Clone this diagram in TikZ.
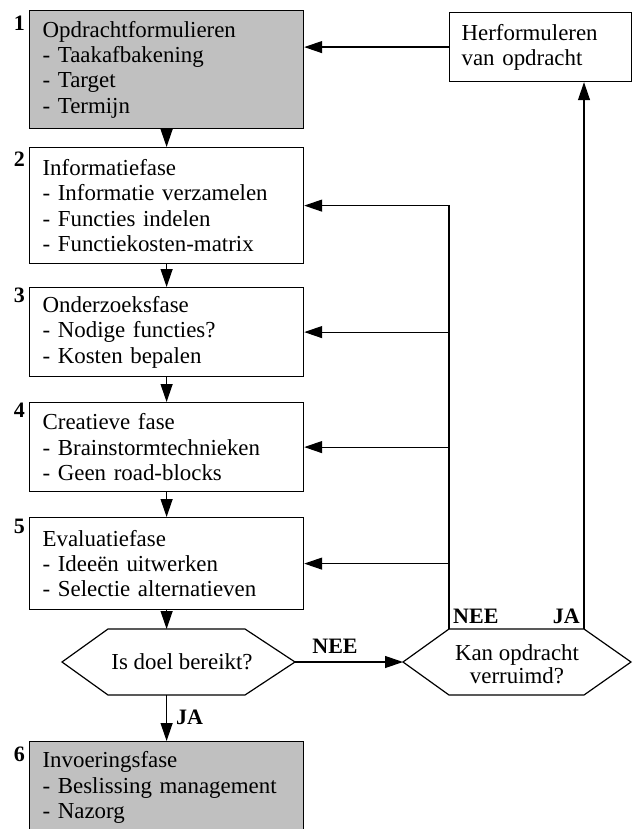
\documentclass[tikz,border=0pt]{standalone}
\usepackage{fontspec}
\setmainfont{Liberation Serif}
\usetikzlibrary{arrows.meta}
\definecolor{phasegray}{RGB}{192,192,192}
\tikzset{
  textbase/.style={draw, line width=1.2pt, rectangle, inner ysep=0pt, align=left,
    font=\fontsize{22.9pt}{25.3pt}\selectfont, anchor=north west},
  phase/.style={textbase, minimum width=274pt, text width=248pt, inner xsep=13pt},
  numlabel/.style={anchor=north east, inner sep=0pt, font=\bfseries\fontsize{22pt}{22pt}\selectfont},
  answer/.style={inner sep=0pt, font=\bfseries\fontsize{22pt}{22pt}\selectfont},
  hextext/.style={inner sep=0pt, align=center, font=\fontsize{22.9pt}{23pt}\selectfont},
  arr/.style={line width=1.2pt, -{Triangle[length=18pt,width=12pt]}},
  hexline/.style={line width=1.2pt, line join=miter}
}
\begin{document}
\begin{tikzpicture}[x=1pt, y=-1pt]
\useasboundingbox (0,0) rectangle (632,829);
\clip (0,0) rectangle (632,829);

% phase boxes
\node[phase, fill=phasegray, minimum height=118pt] (p1) at (29,10)
  {Opdrachtformulieren\\- Taakafbakening\\- Target\\- Termijn};
\node[phase, minimum height=116pt] (p2) at (29,147)
  {Informatiefase\\- Informatie verzamelen\\- Functies indelen\\- Functiekosten-matrix};
\node[phase, minimum height=89pt] (p3) at (29,287)
  {Onderzoeksfase\\- Nodige functies?\\- Kosten bepalen};
\node[phase, minimum height=89pt] (p4) at (29,402)
  {Creatieve fase\\- Brainstormtechnieken\\- Geen road-blocks};
\node[phase, minimum height=92pt] (p5) at (29,517)
  {Evaluatiefase\\- Ideeën uitwerken\\- Selectie alternatieven};
\node[phase, fill=phasegray, minimum height=92pt] (p6) at (29,741)
  {Invoeringsfase\\- Beslissing management\\- Nazorg};

\node[textbase, minimum width=182pt, text width=158pt, inner xsep=12pt, minimum height=69pt] (herf) at (449,12)
  {Herformuleren\\van opdracht};

% phase numbers
\node[numlabel] (n1) at (25,16) {1};
\node[numlabel] (n2) at (25,152) {2};
\node[numlabel] (n3) at (25,288) {3};
\node[numlabel] (n4) at (25,403) {4};
\node[numlabel] (n5) at (25,519) {5};
\node[numlabel] (n6) at (25,747) {6};

% decision hexagons
\coordinate (h1w) at (62,662);
\coordinate (h1nw) at (108,629);
\coordinate (h1ne) at (245,629);
\coordinate (h1e) at (295,662);
\coordinate (h1se) at (245,695);
\coordinate (h1sw) at (108,695);
\draw[hexline] (h1w) -- (h1nw) -- (h1ne) -- (h1e) -- (h1se) -- (h1sw) -- cycle;
\node[hextext] (q1) at (182,662) {Is doel bereikt?};

\coordinate (h2w) at (403,662);
\coordinate (h2nw) at (449,629);
\coordinate (h2ne) at (584,629);
\coordinate (h2e) at (631,662);
\coordinate (h2se) at (584,695);
\coordinate (h2sw) at (449,695);
\draw[hexline] (h2w) -- (h2nw) -- (h2ne) -- (h2e) -- (h2se) -- (h2sw) -- cycle;
\node[hextext] (q2) at (517,664) {Kan opdracht\\verruimd?};

% main flow
\draw[arr] (p1.south) -- (p2.north);
\draw[arr] (p2.south) -- (p3.north);
\draw[arr] (p3.south) -- (p4.north);
\draw[arr] (p4.south) -- (p5.north);
\draw[arr] (p5.south) -- (p5.south |- h1nw);
\draw[arr] (p5.south |- h1sw) -- (p6.north);
\draw[arr] (h1e) -- (h2w);

% feedback loops
\draw[arr] (h2nw) |- (p2.east);
\draw[arr] (h2nw |- p3.east) -- (p3.east);
\draw[arr] (h2nw |- p4.east) -- (p4.east);
\draw[arr] (h2nw |- p5.east) -- (p5.east);
\draw[arr] (h2ne) -- (h2ne |- herf.south);
\draw[arr] (herf.west) -- (herf.west -| p1.east);

% answers
\node[answer, anchor=base west] (a1) at (453,623) {NEE};
\node[answer, anchor=base east] (a2) at (580,623) {JA};
\node[answer, anchor=base] (a3) at (335,653) {NEE};
\node[answer, anchor=base west] (a4) at (176,724) {JA};
\end{tikzpicture}
\end{document}
